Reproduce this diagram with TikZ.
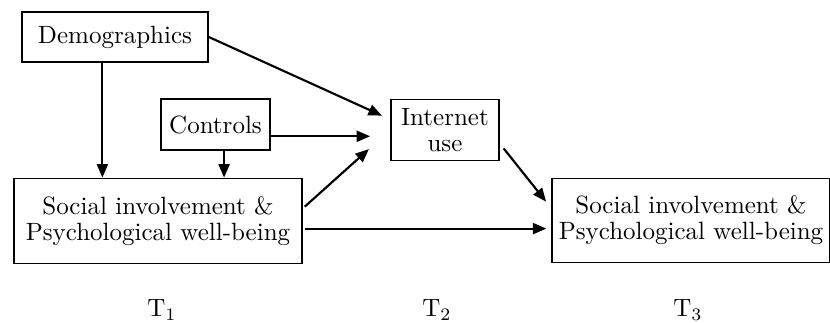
\documentclass[tikz,border=0pt]{standalone}
\usetikzlibrary{arrows.meta,positioning,calc}

\begin{document}
\begin{tikzpicture}[x=0.4pt, y=-0.4pt,
      box/.style={draw, line width=0.7pt, inner sep=0pt, align=center,
                  font=\fontsize{10}{10.4}\selectfont},
      arr/.style={-{Triangle[length=5.4pt, width=4.4pt]}, line width=0.85pt},
      tlbl/.style={font=\fontsize{10}{12}\selectfont}]
    \useasboundingbox (0,0) rectangle (830,322);
    % time 1
    \node[box, minimum width=74.4pt, minimum height=20pt] (demo) at (115,37) {Demographics};
    \node[box, minimum width=43.6pt, minimum height=20.4pt] (ctrl) at (215.5,124.5) {Controls};
    \node[box, minimum width=115.2pt, minimum height=34pt] (siA) at (158,221)
      {Social involvement \&\\Psychological well-being};
    % time 2 and 3
    \node[box, minimum width=43.2pt, minimum height=24.4pt] (inet) at (445,130) {Internet\\use};
    \node[box, minimum width=111pt, minimum height=33.6pt] (siC) at (691,220.5)
      {Social involvement \&\\Psychological well-being};
    % connectors
    \draw[arr] (demo.-116) -- (demo.-116 |- siA.north);
    \draw[arr] (ctrl.-72) -- (ctrl.-72 |- siA.north);
    \draw[arr, shorten >=3.6pt] (demo.east) -- (inet.169);
    \draw[arr, shorten >=8pt] (ctrl.-12) -- (ctrl.-12 -| inet.west);
    \draw[arr, shorten <=1pt, shorten >=11.4pt] (siA.5) -- (inet.west);
    \draw[arr, shorten <=2.4pt, shorten >=3.4pt] (inet.-14) -- (siC.175);
    \draw[arr, shorten <=1pt, shorten >=2pt] (siA.-3) -- (siA.-3 -| siC.west);
    % time labels
    \node[tlbl] (t1) at (162,310) {T$_1$};
    \node[tlbl] (t2) at (437,310) {T$_2$};
    \node[tlbl] (t3) at (688,310) {T$_3$};
\end{tikzpicture}
\end{document}
